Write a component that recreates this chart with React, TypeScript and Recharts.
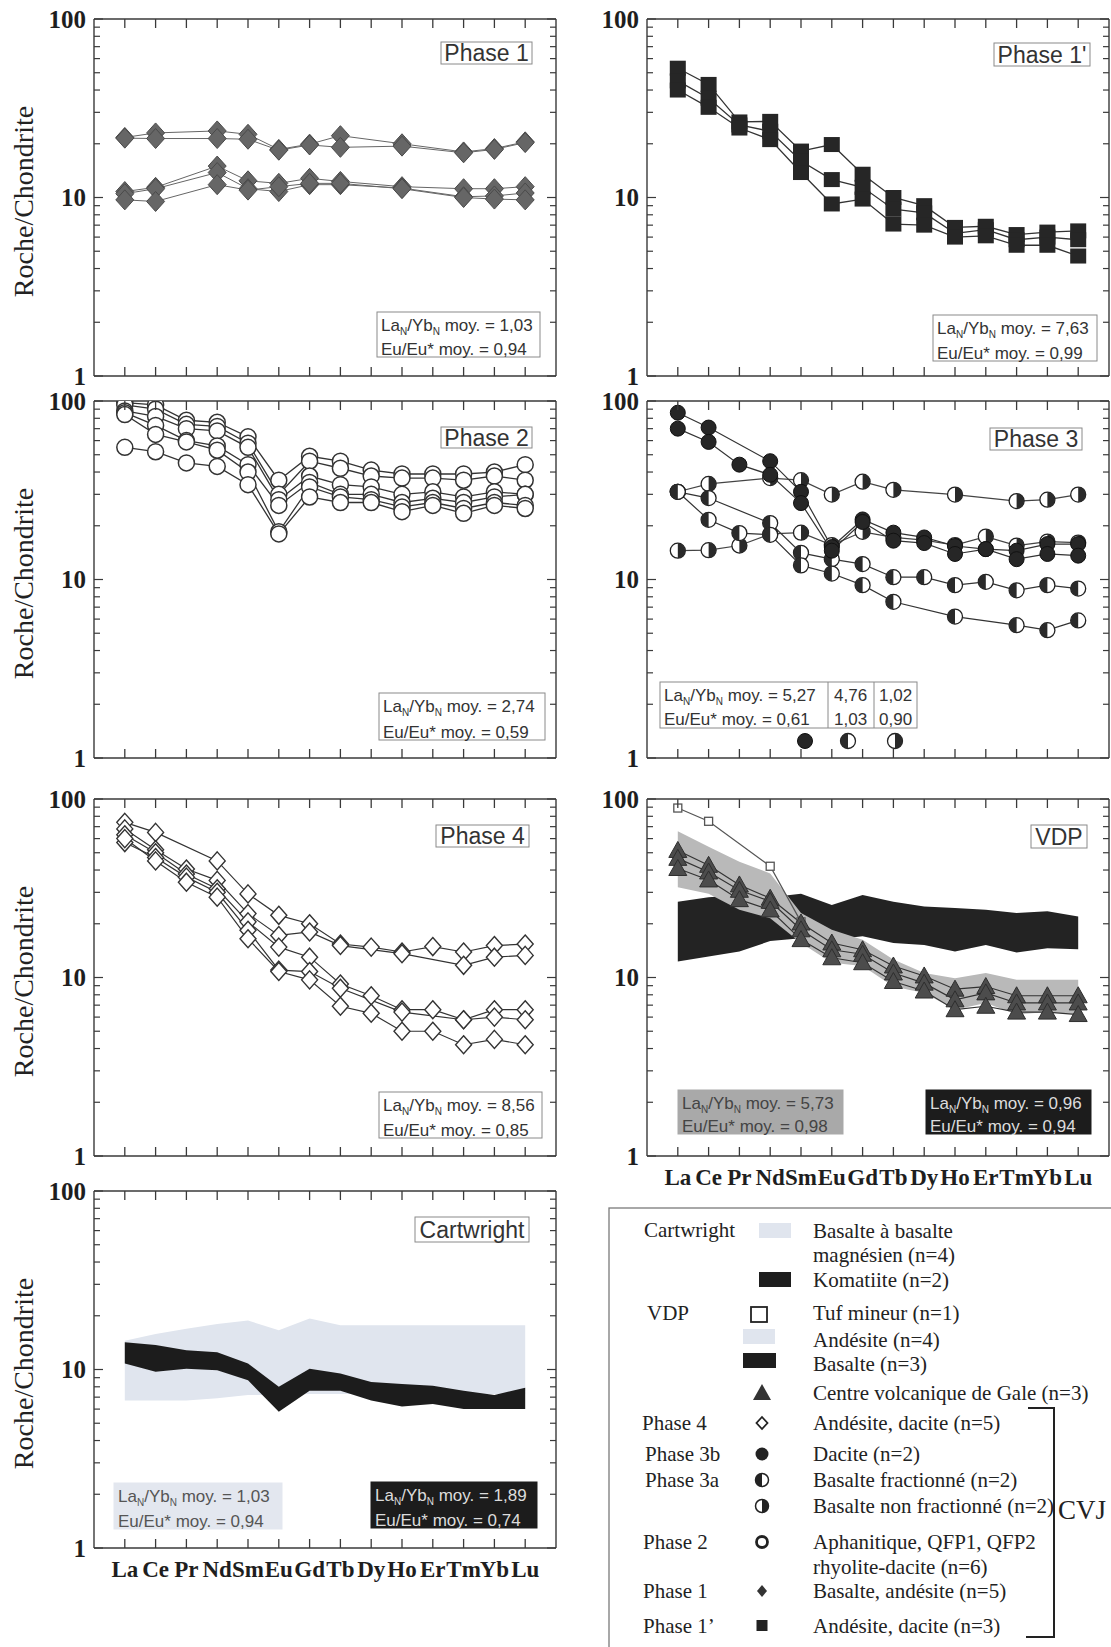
import React from 'react';
import { ComposedChart, Line, Area, XAxis, YAxis } from 'recharts';

const SERIF = '"Liberation Serif", "Times New Roman", serif';
const SANS = '"Liberation Sans", Arial, sans-serif';
const FRAME = '#3a3a3a';

const ELEMENTS = ['La', 'Ce', 'Pr', 'Nd', 'Sm', 'Eu', 'Gd', 'Tb', 'Dy', 'Ho', 'Er', 'Tm', 'Yb', 'Lu'];
const X_TICKS = ELEMENTS.map((_, i) => i);
const Y_TICKS = [1, 2, 3, 4, 5, 6, 7, 8, 9, 10, 20, 30, 40, 50, 60, 70, 80, 90, 100];

// Phase 1 - basalte, andésite (n=5)
const PHASE1 = [
  [21.7, 23.0, null, 23.6, 22.6, 18.6, 19.9, 22.2, null, 20.0, null, 18.0, 18.8, 20.5],
  [21.5, 21.4, null, 21.4, 21.2, 18.4, 19.7, 19.1, null, 19.4, null, 17.8, 18.6, 20.3],
  [10.8, 11.4, null, 15.0, 12.4, 12.0, 12.8, 12.3, null, 11.5, null, 11.2, 11.2, 11.5],
  [10.5, 11.2, null, 13.8, 11.2, 10.8, 11.8, 11.8, null, 11.3, null, 10.1, 10.2, 10.6],
  [9.7, 9.5, null, 11.8, 11.0, 11.5, 12.0, 12.0, null, 11.2, null, 10.0, 9.8, 9.7],
];

// Phase 1' - andésite, dacite (n=3)
const PHASE1P = [
  [53, 43, 26.5, 26.7, 18.2, 19.8, 13.5, 10.0, 9.0, 6.8, 6.9, 6.2, 6.4, 6.5],
  [45, 36, 25.5, 23.5, 16.0, 12.6, 11.4, 8.6, 8.2, 6.3, 6.6, 5.8, 6.0, 5.8],
  [40, 32, 24.5, 21.1, 13.8, 9.2, 9.8, 7.1, 7.0, 6.0, 6.1, 5.4, 5.4, 4.7],
];

// Phase 2 - aphanitique, QFP1, QFP2 rhyolite-dacite (n=6)
const PHASE2 = [
  [98, 95, 78, 76, 63, 36, 49, 46, 41, 39, 39, 39, 40, 44],
  [95, 90, 74, 72, 58, 30, 46, 42, 38, 37, 37, 36, 38, 36],
  [88, 82, 70, 68, 55, 28, 38, 34, 33, 30, 31, 29, 31, 30],
  [86, 73, 60, 56, 44, 26, 35, 30, 30, 27, 28.5, 27, 29, 30],
  [84, 65, 59, 53, 40, 18.5, 33, 29, 28, 25.5, 27, 25, 27, 26],
  [55, 52, 45, 43, 34, 18, 29, 27, 27, 24, 26, 23.5, 26, 25],
];

// Phase 3b - dacite (n=2)
const PHASE3B = [
  [86, 71, null, 46, 31, 15.2, 21.7, 18.3, 17.2, 15.4, 14.8, 14.5, 15.8, 15.8],
  [70, 59, 44, 38.6, 26.8, 14.5, 21.0, 16.5, 16.0, 13.9, 14.8, 13.0, 13.9, 13.6],
];
// Phase 3a - basalte fractionné (n=2)
const PHASE3A_FR = [
  [31, 28.6, null, 20.7, 14.1, 13.0, 12.2, 10.3, 10.3, 9.3, 9.7, 8.7, 9.3, 8.9],
  [31, 21.6, 18.2, 17.8, 12.0, 10.8, 9.3, 7.5, null, 6.2, null, 5.55, 5.2, 5.9],
];
// Phase 3a - basalte non fractionné (n=2)
const PHASE3A_NF = [
  [31, 34.3, null, 37, 36, 29.9, 35.3, 31.8, null, 29.9, null, 27.5, 28.0, 29.9],
  [14.5, 14.6, 15.5, 18, 18.3, 15.6, 18.5, 17.2, 16.6, 15.6, 17.4, 15.5, 16.3, 16.1],
];

// Phase 4 - andésite, dacite (n=5)
const PHASE4 = [
  [74, 65, null, 45, 29.4, 22.3, 20, 15.4, 14.8, 13.9, 14.9, 13.9, 15.1, 15.4],
  [68, 52, 40.5, 35, 22.8, 17.2, 18, 15.1, null, 13.6, null, 11.7, 13.0, 13.3],
  [63, 50, 38, 31.4, 20.5, 14.8, 13.0, 9.2, 7.9, 6.6, 6.6, 5.8, 6.6, 6.6],
  [57, 47, 36.5, 30, 18.4, 11.0, 10.8, 8.7, null, 6.4, null, 5.8, 6.0, 5.8],
  [60, 45, 34.2, 28.2, 16.5, 10.8, 9.7, 6.9, 6.3, 5.0, 5.0, 4.2, 4.5, 4.2],
];

// VDP
const VDP_TUF = [89, 75, null, 42, 20.5, null, null, null, null, null, null, null, null, null];
const VDP_ANDESITE_LOW = [32, 29.5, 24, 21.5, 15.6, 12.1, 11.6, 8.9, 8.2, 6.6, 7.2, 6.2, 6.4, 6.2];
const VDP_ANDESITE_HIGH = [66, 54, 44.5, 38.3, 23, 18.5, 16.3, 12.6, 10.6, 9.9, 10.6, 9.7, 9.7, 9.7];
const VDP_BASALTE_LOW = [12.3, 13.1, 14.0, 16.0, 16.6, 16.3, 17.0, 15.6, 15.2, 14.0, 15.2, 13.8, 14.6, 14.4];
const VDP_BASALTE_HIGH = [26.6, 28.2, 29, 28.2, 29.5, 25.5, 29, 26.6, 25, 24.5, 24, 23, 23.5, 22];
const VDP_GALE = [
  [51.5, 42.5, 33, 27.8, 20.2, 15.6, 14.3, 11.6, 10.2, 8.6, 8.9, 7.9, 7.9, 7.9],
  [46.5, 39, 30.8, 26.7, 18.5, 14.3, 13.5, 10.6, 9.3, 7.5, 8.2, 7.2, 7.2, 7.2],
  [40.8, 35.2, 27.3, 23.9, 16.3, 12.9, 12.1, 9.5, 8.4, 6.6, 6.9, 6.4, 6.4, 6.2],
];

// Cartwright
const CART_BASALTE_LOW = [6.7, 6.7, 6.7, 6.9, 7.2, 7.2, 7.3, 7.3, 7.3, 7.3, 7.3, 7.3, 7.3, 7.3];
const CART_BASALTE_HIGH = [14.5, 15.8, 16.9, 18.0, 18.8, 16.6, 19.3, 17.7, 17.7, 17.7, 17.7, 17.7, 17.7, 17.7];
const CART_KOMATIITE_LOW = [10.8, 9.7, 10.1, 9.9, 8.7, 5.8, 7.6, 7.6, 6.7, 6.2, 6.4, 6.0, 6.0, 6.0];
const CART_KOMATIITE_HIGH = [14.2, 13.7, 12.8, 12.5, 10.8, 8.0, 10.1, 9.5, 8.5, 8.3, 8.1, 7.6, 7.2, 7.9];

const PLOT_W = 462;
const PLOT_H = 357;
const ML = 90;
const MR = 2;
const MT = 20;
const MB = 45;
const COL_X = [94, 647];
const ROW_Y = [19, 401, 799, 1191];

type Kind = 'diamondGrey' | 'square' | 'circleOpen' | 'circleBlack' | 'halfLeft' | 'halfRight' | 'diamondOpen' | 'triangle' | 'squareSmall';

interface Series {
  key: string;
  values: (number | null)[];
  kind: Kind;
  stroke: string;
  width: number;
}

interface Band {
  key: string;
  low: number[];
  high: number[];
  fill: string;
}

const halfPath = (cx: number, cy: number, r: number, left: boolean) =>
  `M${cx},${cy - r} A${r},${r} 0 0 ${left ? 0 : 1} ${cx},${cy + r} Z`;

function Marker({ kind, cx, cy }: { kind: Kind; cx: number; cy: number }) {
  switch (kind) {
    case 'diamondGrey':
      return <polygon points={`${cx},${cy - 10} ${cx + 9},${cy} ${cx},${cy + 10} ${cx - 9},${cy}`} fill="#666" stroke="#4a4a4a" strokeWidth={1} />;
    case 'diamondOpen':
      return <polygon points={`${cx},${cy - 9} ${cx + 8},${cy} ${cx},${cy + 9} ${cx - 8},${cy}`} fill="#fff" stroke="#333" strokeWidth={1.4} />;
    case 'square':
      return <rect x={cx - 8} y={cy - 7.5} width={16} height={15} fill="#262626" />;
    case 'squareSmall':
      return <rect x={cx - 4} y={cy - 4} width={8} height={8} fill="#fff" stroke="#555" strokeWidth={1.3} />;
    case 'circleOpen':
      return <circle cx={cx} cy={cy} r={8} fill="#fff" stroke="#333" strokeWidth={1.5} />;
    case 'circleBlack':
      return <circle cx={cx} cy={cy} r={7.5} fill="#262626" stroke="#111" strokeWidth={1} />;
    case 'halfLeft':
    case 'halfRight':
      return (
        <g>
          <circle cx={cx} cy={cy} r={7.5} fill="#fff" stroke="#222" strokeWidth={1.3} />
          <path d={halfPath(cx, cy, 7.5, kind === 'halfLeft')} fill="#2a2a2a" />
        </g>
      );
    case 'triangle':
      return <polygon points={`${cx},${cy - 9} ${cx + 9},${cy + 7} ${cx - 9},${cy + 7}`} fill="#4c4c4c" stroke="#2e2e2e" strokeWidth={1} />;
    default:
      return null;
  }
}

function XTick(props: any) {
  const { x, y, payload, side, showLabel } = props;
  const dir = side === 'bottom' ? -1 : 1;
  return (
    <g>
      <line x1={x} x2={x} y1={y} y2={y + dir * 9} stroke={FRAME} strokeWidth={1.3} />
      {showLabel && side === 'bottom' && (
        <text x={x} y={y + 29} textAnchor="middle" fontFamily={SERIF} fontWeight="bold" fontSize={23} fill="#1e1e1e">
          {ELEMENTS[payload.value]}
        </text>
      )}
    </g>
  );
}

function YTick(props: any) {
  const { x, y, payload, side } = props;
  const v = payload.value;
  const major = v === 1 || v === 10 || v === 100;
  const dir = side === 'left' ? 1 : -1;
  return (
    <g>
      <line x1={x} x2={x + dir * (major ? 9 : 6)} y1={y} y2={y} stroke={FRAME} strokeWidth={1.2} />
      {side === 'left' && major && (
        <text x={x - 8} y={y} dy="0.35em" textAnchor="end" fontFamily={SERIF} fontWeight="bold" fontSize={25} fill="#1e1e1e">
          {v}
        </text>
      )}
    </g>
  );
}

function buildRows(series: Series[], bands: Band[]) {
  return ELEMENTS.map((el, i) => {
    const row: any = { i, el };
    series.forEach((s) => {
      row[s.key] = s.values[i];
    });
    bands.forEach((b) => {
      row[b.key] = [b.low[i], b.high[i]];
    });
    return row;
  });
}

const group = (prefix: string, list: (number | null)[][], kind: Kind, stroke = '#3a3a3a', width = 1.2): Series[] =>
  list.map((values, n) => ({ key: `${prefix}${n}`, values, kind, stroke, width }));

interface PanelProps {
  col: number;
  row: number;
  series: Series[];
  bands?: Band[];
  xLabels?: boolean;
}

function Panel({ col, row, series, bands = [], xLabels = false }: PanelProps) {
  const data = buildRows(series, bands);
  const axisLine = { stroke: FRAME, strokeWidth: 1.4 };
  return (
    <div style={{ position: 'absolute', left: COL_X[col] - ML, top: ROW_Y[row] - MT }}>
      <ComposedChart
        width={ML + PLOT_W + MR}
        height={MT + PLOT_H + MB}
        data={data}
        margin={{ top: MT - 10, right: MR - 2, bottom: MB - 30, left: ML - 40 }}
      >
        <XAxis xAxisId="b" dataKey="i" type="number" domain={[-1, 14]} ticks={X_TICKS} interval={0} height={30}
          tickSize={0} tickMargin={0} tickLine={false} axisLine={axisLine}
          tick={(p: any) => <XTick {...p} side="bottom" showLabel={xLabels} />} />
        <XAxis xAxisId="t" orientation="top" dataKey="i" type="number" domain={[-1, 14]} ticks={X_TICKS} interval={0} height={10}
          tickSize={0} tickMargin={0} tickLine={false} axisLine={axisLine}
          tick={(p: any) => <XTick {...p} side="top" />} />
        <YAxis yAxisId="l" type="number" scale="log" domain={[1, 100]} ticks={Y_TICKS} interval={0} width={40} allowDataOverflow
          tickSize={0} tickMargin={0} tickLine={false} axisLine={axisLine}
          tick={(p: any) => <YTick {...p} side="left" />} />
        <YAxis yAxisId="r" orientation="right" type="number" scale="log" domain={[1, 100]} ticks={Y_TICKS} interval={0} width={2} allowDataOverflow
          tickSize={0} tickMargin={0} tickLine={false} axisLine={axisLine}
          tick={(p: any) => <YTick {...p} side="right" />} />
        {bands.map((b) => (
          <Area key={b.key} xAxisId="b" yAxisId="l" dataKey={b.key} type="linear" stroke="none" fill={b.fill} fillOpacity={1}
            dot={false} activeDot={false} isAnimationActive={false} />
        ))}
        {series.map((s) => (
          <Line key={s.key} xAxisId="b" yAxisId="l" dataKey={s.key} type="linear" stroke={s.stroke} strokeWidth={s.width}
            connectNulls activeDot={false} isAnimationActive={false}
            dot={(p: any) =>
              p.cx == null || p.cy == null || p.value == null ? (
                <g key={`${s.key}-${p.index}`} />
              ) : (
                <Marker key={`${s.key}-${p.index}`} kind={s.kind} cx={p.cx} cy={p.cy} />
              )
            } />
        ))}
      </ComposedChart>
    </div>
  );
}

function LaYb({ x, y, value, fill = '#333' }: { x: number; y: number; value: string; fill?: string }) {
  return (
    <text x={x} y={y} fontFamily={SANS} fontSize={17} fill={fill}>
      La<tspan dy={4} fontSize={10}>N</tspan><tspan dy={-4}>/Yb</tspan><tspan dy={4} fontSize={10}>N</tspan><tspan dy={-4}> moy. = {value}</tspan>
    </text>
  );
}

function EuEu({ x, y, value, fill = '#333' }: { x: number; y: number; value: string; fill?: string }) {
  return (
    <text x={x} y={y} fontFamily={SANS} fontSize={17} fill={fill}>
      Eu/Eu* moy. = {value}
    </text>
  );
}

function StatBox({ x1, y1, x2, y2, la, eu, fill = 'none', text = '#333', stroke = '#8a8a8a' }:
  { x1: number; y1: number; x2: number; y2: number; la: string; eu: string; fill?: string; text?: string; stroke?: string }) {
  return (
    <g>
      <rect x={x1} y={y1} width={x2 - x1} height={y2 - y1} fill={fill} stroke={stroke} strokeWidth={1} />
      <LaYb x={x1 + 4} y={y1 + 19} value={la} fill={text} />
      <EuEu x={x1 + 4} y={y2 - 2} value={eu} fill={text} />
    </g>
  );
}

function TitleBox({ x1, y1, x2, y2, label }: { x1: number; y1: number; x2: number; y2: number; label: string }) {
  return (
    <g>
      <rect x={x1} y={y1} width={x2 - x1} height={y2 - y1} fill="#fff" stroke="#8a8a8a" strokeWidth={1} />
      <text x={(x1 + x2) / 2} y={(y1 + y2) / 2 + 8} textAnchor="middle" fontFamily={SANS} fontSize={23} fill="#333">{label}</text>
    </g>
  );
}

const LEGEND_GROUPS = [
  { label: 'Cartwright', x: 644, y: 1237 },
  { label: 'VDP', x: 647, y: 1320 },
  { label: 'Phase 4', x: 642, y: 1430 },
  { label: 'Phase 3b', x: 645, y: 1461 },
  { label: 'Phase 3a', x: 645, y: 1487 },
  { label: 'Phase 2', x: 643, y: 1549 },
  { label: 'Phase 1', x: 643, y: 1598 },
  { label: 'Phase 1\u2019', x: 643, y: 1633 },
];

const LEGEND_TEXTS = [
  { label: 'Basalte à basalte', y: 1238 },
  { label: 'magnésien (n=4)', y: 1262 },
  { label: 'Komatiite (n=2)', y: 1287 },
  { label: 'Tuf mineur (n=1)', y: 1320 },
  { label: 'Andésite (n=4)', y: 1347 },
  { label: 'Basalte (n=3)', y: 1371 },
  { label: 'Centre volcanique de Gale (n=3)', y: 1400 },
  { label: 'Andésite, dacite (n=5)', y: 1430 },
  { label: 'Dacite (n=2)', y: 1461 },
  { label: 'Basalte fractionné (n=2)', y: 1487 },
  { label: 'Basalte non fractionné (n=2)', y: 1513 },
  { label: 'Aphanitique, QFP1, QFP2', y: 1549 },
  { label: 'rhyolite-dacite (n=6)', y: 1574 },
  { label: 'Basalte, andésite (n=5)', y: 1598 },
  { label: 'Andésite, dacite (n=3)', y: 1633 },
];

function LegendPanel() {
  const mx = 762;
  return (
    <g>
      <rect x={609} y={1208} width={520} height={460} fill="none" stroke="#7a7a7a" strokeWidth={1.3} />
      {LEGEND_GROUPS.map((g) => (
        <text key={g.label} x={g.x} y={g.y} fontFamily={SERIF} fontSize={21} fill="#222">{g.label}</text>
      ))}
      {LEGEND_TEXTS.map((t) => (
        <text key={t.label} x={813} y={t.y} fontFamily={SERIF} fontSize={21} fill="#222">{t.label}</text>
      ))}
      <rect x={759} y={1223} width={32} height={15} fill="#e0e5ee" />
      <rect x={759} y={1272} width={32} height={15} fill="#1e1e1e" />
      <rect x={751} y={1307} width={16} height={15} fill="none" stroke="#222" strokeWidth={1.8} />
      <rect x={743} y={1329} width={32} height={15} fill="#e0e5ee" />
      <rect x={743} y={1353} width={33} height={15} fill="#1e1e1e" />
      <polygon points={`${mx},1384 ${mx + 9},1400 ${mx - 9},1400`} fill="#333" />
      <polygon points={`${mx},1417 ${mx + 5.5},1423 ${mx},1429 ${mx - 5.5},1423`} fill="#fff" stroke="#222" strokeWidth={1.8} />
      <circle cx={mx} cy={1454} r={6.5} fill="#222" />
      <circle cx={mx} cy={1480} r={6.5} fill="#fff" stroke="#222" strokeWidth={1.5} />
      <path d={halfPath(mx, 1480, 6.5, true)} fill="#222" />
      <circle cx={mx} cy={1506} r={6.5} fill="#fff" stroke="#222" strokeWidth={1.5} />
      <path d={halfPath(mx, 1506, 6.5, false)} fill="#222" />
      <circle cx={mx} cy={1542} r={5.5} fill="#fff" stroke="#222" strokeWidth={2.8} />
      <polygon points={`${mx},1585 ${mx + 5},1591 ${mx},1597 ${mx - 5},1591`} fill="#333" />
      <rect x={mx - 5.5} y={1620} width={11} height={11} fill="#222" />
      <path d="M1028,1408 H1054 V1637 H1026" fill="none" stroke="#222" strokeWidth={2} />
      <text x={1058} y={1519} fontFamily={SERIF} fontSize={27} fill="#222">CVJ</text>
    </g>
  );
}

export default function App() {
  const phase1 = group('p1_', PHASE1, 'diamondGrey', '#666', 1);
  const phase1p = group('p1p_', PHASE1P, 'square', '#333', 1.3);
  const phase2 = group('p2_', PHASE2, 'circleOpen', '#333', 1.3);
  const phase3 = [
    ...group('p3na_', PHASE3A_NF, 'halfRight', '#444', 1.2),
    ...group('p3fa_', PHASE3A_FR, 'halfLeft', '#333', 1.2),
    ...group('p3b_', PHASE3B, 'circleBlack', '#333', 1.2),
  ];
  const phase4 = group('p4_', PHASE4, 'diamondOpen', '#333', 1.2);
  const vdpSeries: Series[] = [
    { key: 'tuf', values: VDP_TUF, kind: 'squareSmall', stroke: '#555', width: 1.2 },
    ...group('gale_', VDP_GALE, 'triangle', '#333', 1.2),
  ];
  const vdpBands: Band[] = [
    { key: 'basalte', low: VDP_BASALTE_LOW, high: VDP_BASALTE_HIGH, fill: '#232323' },
    { key: 'andesite', low: VDP_ANDESITE_LOW, high: VDP_ANDESITE_HIGH, fill: '#b9b9b9' },
  ];
  const cartBands: Band[] = [
    { key: 'basalte', low: CART_BASALTE_LOW, high: CART_BASALTE_HIGH, fill: '#e0e5ee' },
    { key: 'komatiite', low: CART_KOMATIITE_LOW, high: CART_KOMATIITE_HIGH, fill: '#1c1c1c' },
  ];

  return (
    <div style={{ position: 'absolute', left: 0, top: 0, width: 1111, height: 1647, overflow: 'hidden', background: '#fff' }}>
      <Panel col={0} row={0} series={phase1} />
      <Panel col={1} row={0} series={phase1p} />
      <Panel col={0} row={1} series={phase2} />
      <Panel col={1} row={1} series={phase3} />
      <Panel col={0} row={2} series={phase4} />
      <Panel col={1} row={2} series={vdpSeries} bands={vdpBands} xLabels />
      <Panel col={0} row={3} series={[]} bands={cartBands} xLabels />
      <svg width={1111} height={1647} style={{ position: 'absolute', left: 0, top: 0, pointerEvents: 'none' }}>
        {ROW_Y.map((y) => (
          <text key={y} transform={`translate(33, ${y + PLOT_H / 2 + 4}) rotate(-90)`} textAnchor="middle"
            fontFamily={SERIF} fontSize={28} fill="#222">Roche/Chondrite</text>
        ))}
        <TitleBox x1={441} y1={42} x2={532} y2={64} label="Phase 1" />
        <TitleBox x1={994} y1={43} x2={1090} y2={66} label="Phase 1'" />
        <TitleBox x1={441} y1={427} x2={532} y2={448} label="Phase 2" />
        <TitleBox x1={990} y1={428} x2={1082} y2={450} label="Phase 3" />
        <TitleBox x1={436} y1={825} x2={529} y2={847} label="Phase 4" />
        <TitleBox x1={1031} y1={825} x2={1087} y2={848} label="VDP" />
        <TitleBox x1={415} y1={1217} x2={529} y2={1242} label="Cartwright" />

        <StatBox x1={377} y1={312} x2={540} y2={357} la="1,03" eu="0,94" />
        <StatBox x1={933} y1={315} x2={1097} y2={361} la="7,63" eu="0,99" />
        <StatBox x1={379} y1={693} x2={545} y2={740} la="2,74" eu="0,59" />
        <StatBox x1={379} y1={1092} x2={542} y2={1138} la="8,56" eu="0,85" />
        <StatBox x1={678} y1={1090} x2={843} y2={1134} la="5,73" eu="0,98" fill="#a9a9a9" text="#444" stroke="#a9a9a9" />
        <StatBox x1={926} y1={1090} x2={1091} y2={1134} la="0,96" eu="0,94" fill="#1c1c1c" text="#dcdcdc" stroke="#1c1c1c" />
        <StatBox x1={114} y1={1483} x2={282} y2={1529} la="1,03" eu="0,94" fill="#e3e7ef" text="#555" stroke="#e3e7ef" />
        <StatBox x1={371} y1={1482} x2={537} y2={1528} la="1,89" eu="0,74" fill="#1c1c1c" text="#dcdcdc" stroke="#1c1c1c" />

        {/* Phase 3 three-column summary */}
        <g>
          <rect x={660} y={682} width={257} height={46} fill="#fff" stroke="#8a8a8a" strokeWidth={1} />
          <line x1={828} x2={828} y1={682} y2={728} stroke="#8a8a8a" />
          <line x1={874} x2={874} y1={682} y2={728} stroke="#8a8a8a" />
          <LaYb x={664} y={701} value="5,27" />
          <EuEu x={664} y={725} value=" 0,61" />
          <text x={834} y={701} fontFamily={SANS} fontSize={17} fill="#333">4,76</text>
          <text x={834} y={725} fontFamily={SANS} fontSize={17} fill="#333">1,03</text>
          <text x={879} y={701} fontFamily={SANS} fontSize={17} fill="#333">1,02</text>
          <text x={879} y={725} fontFamily={SANS} fontSize={17} fill="#333">0,90</text>
          <Marker kind="circleBlack" cx={805} cy={741} />
          <Marker kind="halfLeft" cx={848} cy={741} />
          <Marker kind="halfRight" cx={895} cy={741} />
        </g>

        <LegendPanel />
      </svg>
    </div>
  );
}
